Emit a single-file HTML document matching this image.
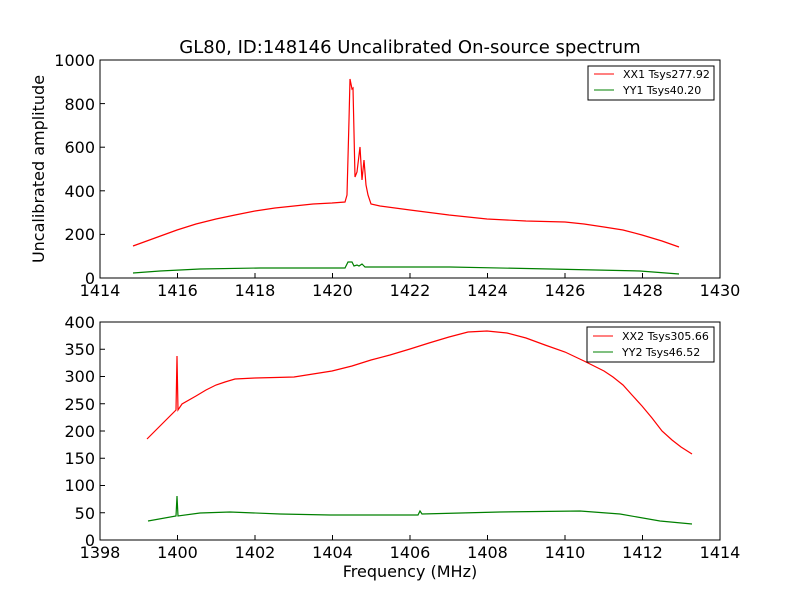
<!DOCTYPE html>
<html><head><style>body{margin:0;background:#fff}</style></head><body>
<svg width="800" height="600" xmlns="http://www.w3.org/2000/svg" font-family="DejaVu Sans, Liberation Sans, sans-serif">
<rect width="800" height="600" fill="#fff"/>
<text x="410" y="53" font-size="18" text-anchor="middle">GL80, ID:148146 Uncalibrated On-source spectrum</text>
<g fill="none" stroke-width="1.2">
<polyline stroke="red" points="133,246 155,238 177,230 196,224 216,219 235,215 255,211 275,208 294,206 313,204 332,203 345,202 347,195 349,120 350,79 352,89 353,88 355,177 357,172 360,147 362,180 364,160 366,185 368,195 371,204 380,206 410,210 449,215 487,219 526,221 565,222 584,224 604,227 623,230 642,235 662,241 679,247"/>
<polyline stroke="green" points="133,273 160,271 200,269 260,268 345,268 348,262 352,262 354,266 357,265 359,266 362,264 365,267 370,267 450,267 550,269 640,271 679,274"/>
</g>
<rect x="100" y="60" width="620" height="218" fill="none" stroke="#000"/>
<g stroke="#000">
<line x1="177.5" y1="278" x2="177.5" y2="273"/><line x1="255" y1="278" x2="255" y2="273"/><line x1="332.5" y1="278" x2="332.5" y2="273"/><line x1="410" y1="278" x2="410" y2="273"/><line x1="487.5" y1="278" x2="487.5" y2="273"/><line x1="565" y1="278" x2="565" y2="273"/><line x1="642.5" y1="278" x2="642.5" y2="273"/>
<line x1="100" y1="234.4" x2="105" y2="234.4"/><line x1="100" y1="190.8" x2="105" y2="190.8"/><line x1="100" y1="147.2" x2="105" y2="147.2"/><line x1="100" y1="103.6" x2="105" y2="103.6"/>
</g>
<g font-size="16" text-anchor="middle">
<text x="100" y="296">1414</text><text x="177.5" y="296">1416</text><text x="255" y="296">1418</text><text x="332.5" y="296">1420</text><text x="410" y="296">1422</text><text x="487.5" y="296">1424</text><text x="565" y="296">1426</text><text x="642.5" y="296">1428</text><text x="720" y="296">1430</text>
</g>
<g font-size="16" text-anchor="end">
<text x="95" y="284">0</text><text x="95" y="240">200</text><text x="95" y="197">400</text><text x="95" y="153">600</text><text x="95" y="110">800</text><text x="95" y="66">1000</text>
</g>
<text transform="translate(44,169) rotate(-90)" font-size="16" text-anchor="middle">Uncalibrated amplitude</text>
<rect x="588" y="66" width="126" height="34" fill="#fff" stroke="#000"/>
<line x1="594" y1="74" x2="614" y2="74" stroke="red"/><text x="623" y="78" font-size="11">XX1 Tsys277.92</text>
<line x1="594" y1="90" x2="614" y2="90" stroke="green"/><text x="623" y="94" font-size="11">YY1 Tsys40.20</text>
<g fill="none" stroke-width="1.2">
<polyline stroke="red" points="147,439 162,424 176,410 177,356 178,410 182,404 196,396 206,390 216,385 225,382 235,379 255,378 275,377.5 294,377 313,374 332,371 352,366 371,360 390,355 410,349 429,343 449,337 468,332 487,331 507,333 526,338 545,345 565,352 584,361 604,371 613,377 623,385 632,395 642,406 652,418 662,431 672,440 681,447 692,454"/>
<polyline stroke="green" points="148,521 176,516 177,496 178,516 200,513 230,512 280,514 330,515 418,515 420,511 422,514 500,512 580,511 620,514 660,521 692,524"/>
</g>
<rect x="100" y="322" width="620" height="218" fill="none" stroke="#000"/>
<g stroke="#000">
<line x1="177.5" y1="540" x2="177.5" y2="535"/><line x1="255" y1="540" x2="255" y2="535"/><line x1="332.5" y1="540" x2="332.5" y2="535"/><line x1="410" y1="540" x2="410" y2="535"/><line x1="487.5" y1="540" x2="487.5" y2="535"/><line x1="565" y1="540" x2="565" y2="535"/><line x1="642.5" y1="540" x2="642.5" y2="535"/>
<line x1="100" y1="512.75" x2="105" y2="512.75"/><line x1="100" y1="485.5" x2="105" y2="485.5"/><line x1="100" y1="458.25" x2="105" y2="458.25"/><line x1="100" y1="431" x2="105" y2="431"/><line x1="100" y1="403.75" x2="105" y2="403.75"/><line x1="100" y1="376.5" x2="105" y2="376.5"/><line x1="100" y1="349.25" x2="105" y2="349.25"/>
</g>
<g font-size="16" text-anchor="middle">
<text x="100" y="558">1398</text><text x="177.5" y="558">1400</text><text x="255" y="558">1402</text><text x="332.5" y="558">1404</text><text x="410" y="558">1406</text><text x="487.5" y="558">1408</text><text x="565" y="558">1410</text><text x="642.5" y="558">1412</text><text x="720" y="558">1414</text>
</g>
<g font-size="16" text-anchor="end">
<text x="95" y="546">0</text><text x="95" y="519">50</text><text x="95" y="491">100</text><text x="95" y="464">150</text><text x="95" y="437">200</text><text x="95" y="410">250</text><text x="95" y="382">300</text><text x="95" y="355">350</text><text x="95" y="328">400</text>
</g>
<text x="410" y="577" font-size="16" text-anchor="middle">Frequency (MHz)</text>
<rect x="587" y="327" width="127" height="35" fill="#fff" stroke="#000"/>
<line x1="593" y1="336" x2="613" y2="336" stroke="red"/><text x="622" y="340" font-size="11">XX2 Tsys305.66</text>
<line x1="593" y1="352" x2="613" y2="352" stroke="green"/><text x="622" y="356" font-size="11">YY2 Tsys46.52</text>
</svg>
</body></html>
